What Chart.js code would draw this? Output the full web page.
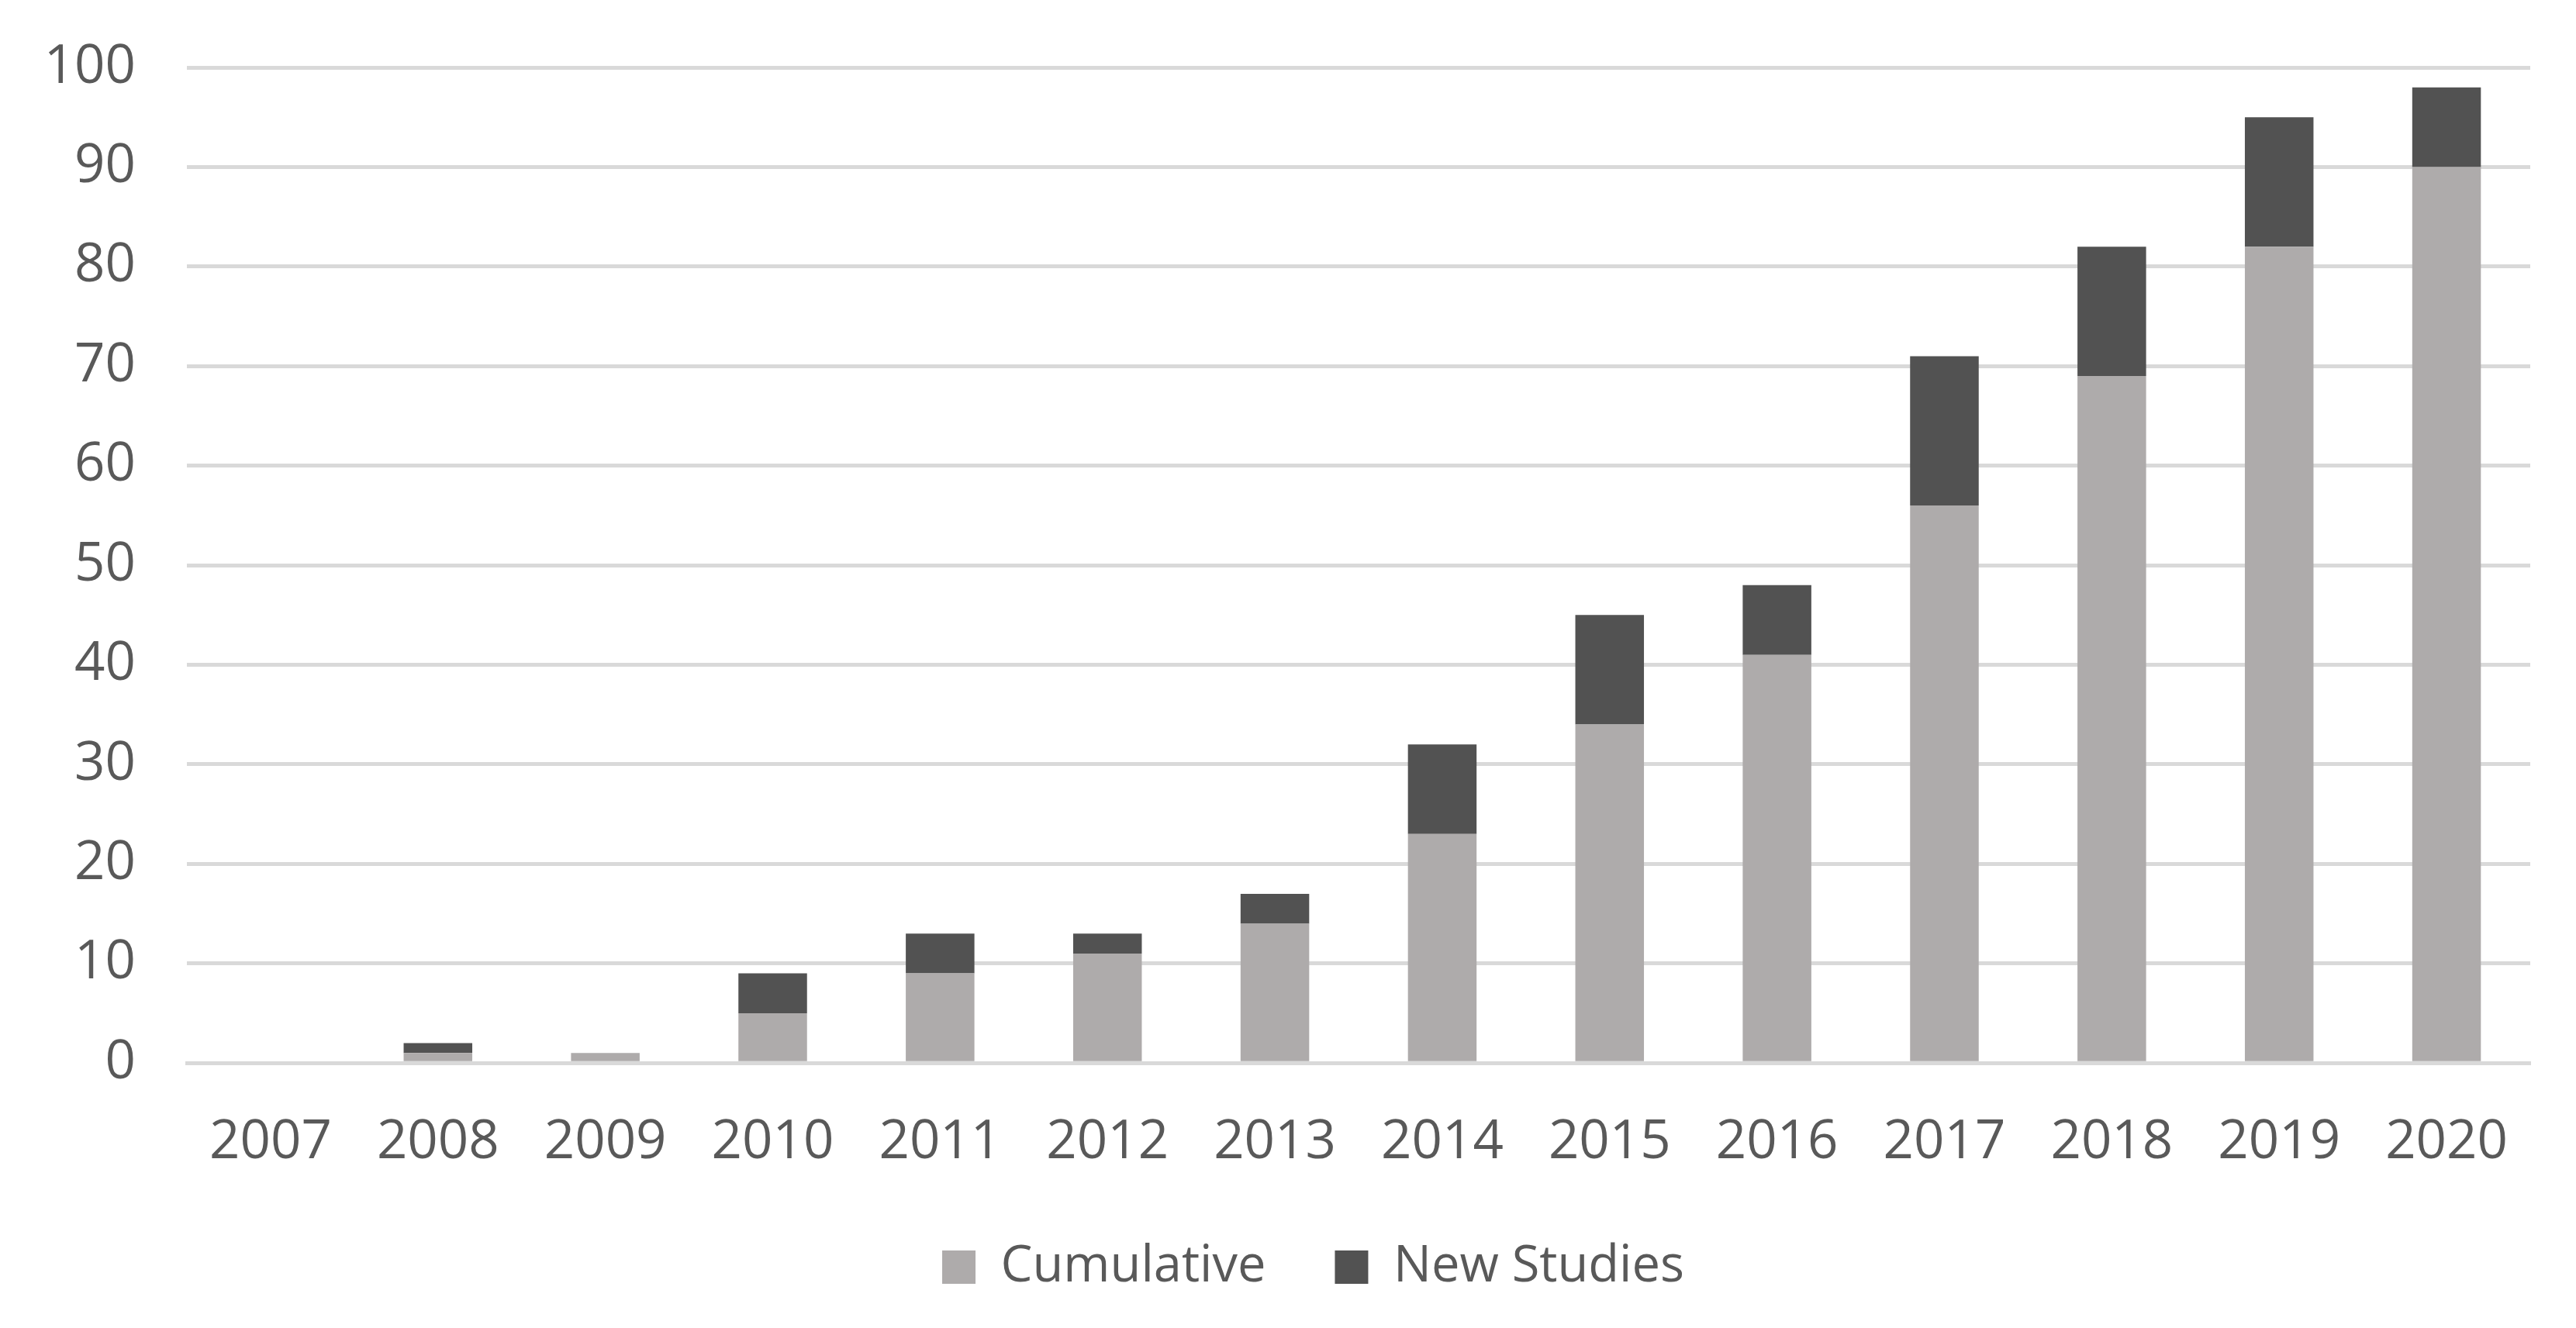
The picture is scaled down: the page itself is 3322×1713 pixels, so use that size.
<!DOCTYPE html>
<html>
<head>
<meta charset="utf-8">
<script src="https://cdn.jsdelivr.net/npm/chart.js@4/dist/chart.umd.min.js"></script>
<style>
  html, body { margin: 0; padding: 0; background: #fff; }
  #wrap { width: 3322px; height: 1713px; }
</style>
</head>
<body>
<div id="wrap"><canvas id="chart"></canvas></div>
<script>
// Years on the x axis
const years = ["2007", "2008", "2009", "2010", "2011", "2012", "2013",
  "2014", "2015", "2016", "2017", "2018", "2019", "2020"];

// Bottom (light) segment of each bar
const cumulative = [0, 1, 1, 5, 9, 11, 14, 23, 34, 41, 56, 69, 82, 90];

// Top (dark) segment stacked on it
const newStudies = [0, 1, 0, 4, 4, 2, 3, 9, 11, 7, 15, 13, 13, 8];

const yTicks = [0, 10, 20, 30, 40, 50, 60, 70, 80, 90, 100];

const fontFamily = "'Open Sans', 'Liberation Sans', sans-serif";
const fontSize = 69;
const textColor = "#595959";

// the legend in the original sits a bit right of the page centre
const legendNudge = {
  id: "legendNudge",
  afterLayout(chart) {
    if (chart.legend) {
      chart.legend.left += 62;
      chart.legend.right += 62;
    }
  },
};

const ctx = document.getElementById("chart").getContext("2d");

new Chart(ctx, {
  type: "bar",
  data: {
    labels: years,
    datasets: [
      {
        label: "Cumulative",
        data: cumulative,
        backgroundColor: "#aeabab",
        borderWidth: 0,
      },
      {
        label: "New Studies",
        data: newStudies,
        backgroundColor: "#525252",
        borderWidth: 0,
      },
    ],
  },
  plugins: [legendNudge],
  options: {
    responsive: true,
    maintainAspectRatio: false,
    animation: false,
    devicePixelRatio: 1,
    layout: {
      padding: { left: 0, right: 59, top: 87, bottom: 36 },
    },
    datasets: {
      bar: {
        categoryPercentage: 1.0,
        barPercentage: 0.41,
      },
    },
    plugins: {
      legend: {
        position: "bottom",
        labels: {
          color: textColor,
          font: { family: fontFamily, size: 65 },
          boxWidth: 43,
          boxHeight: 43,
          padding: 89,
        },
      },
      tooltip: { enabled: false },
    },
    scales: {
      x: {
        stacked: true,
        grid: { display: false },
        border: { display: true, color: "#d9d9d9", width: 5 },
        ticks: {
          color: textColor,
          font: { family: fontFamily, size: fontSize },
          padding: 54,
          maxRotation: 0,
        },
        // trim the extra room so the legend sits closer to the labels
        afterFit: (scale) => {
          scale.height -= 57;
        },
      },
      y: {
        stacked: true,
        min: 0,
        max: 100,
        afterBuildTicks: (axis) => {
          axis.ticks = yTicks.map((v) => ({ value: v }));
        },
        afterFit: (scale) => {
          scale.width = 241;
          scale.paddingTop = 0;
          scale.paddingBottom = 0;
        },
        grid: {
          color: "#d9d9d9",
          lineWidth: 5,
          drawTicks: false,
        },
        border: { display: false },
        ticks: {
          color: textColor,
          font: { family: fontFamily, size: fontSize },
          padding: 66,
        },
      },
    },
  },
});
</script>
</body>
</html>
